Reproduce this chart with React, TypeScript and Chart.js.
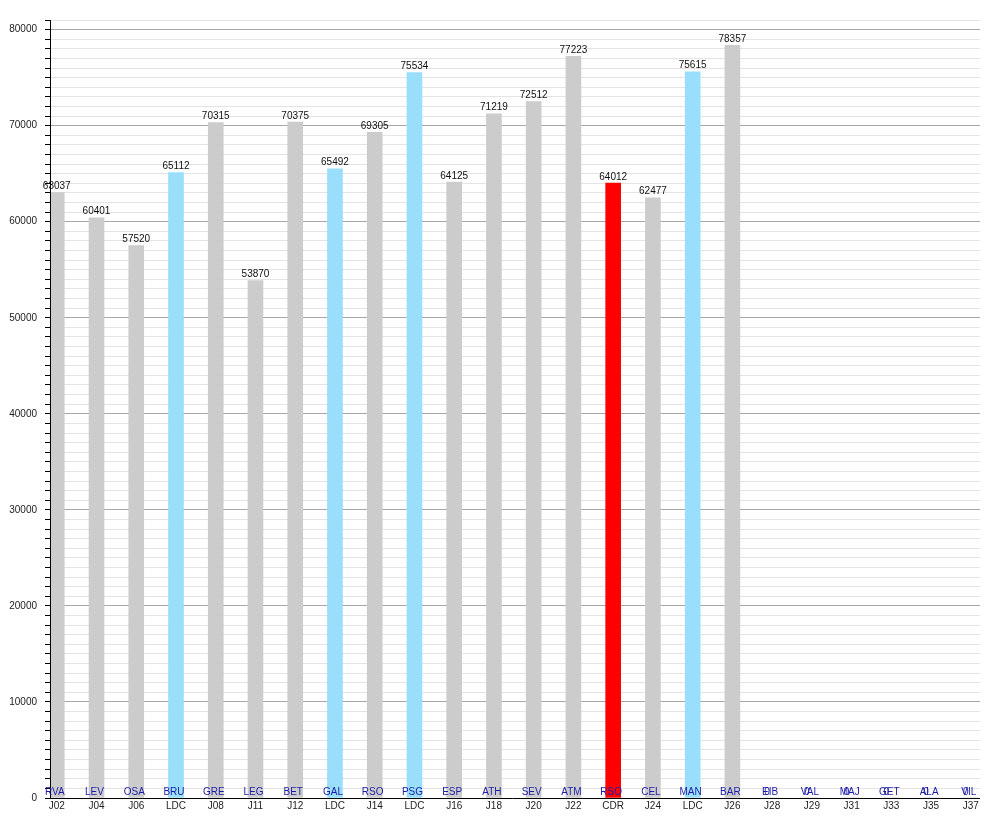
import React, { useEffect, useRef } from 'react';
import { Chart, registerables } from 'chart.js';

Chart.register(...registerables);

const rounds = ['J02','J04','J06','LDC','J08','J11','J12','LDC','J14','LDC','J16','J18','J20','J22','CDR','J24','LDC','J26','J28','J29','J31','J33','J35','J37'];
const opponents = ['RVA','LEV','OSA','BRU','GRE','LEG','BET','GAL','RSO','PSG','ESP','ATH','SEV','ATM','RSO','CEL','MAN','BAR','EIB','VAL','MAJ','GET','ALA','VIL'];
const attendance = [63037,60401,57520,65112,70315,53870,70375,65492,69305,75534,64125,71219,72512,77223,64012,62477,75615,78357,0,0,0,0,0,0];
const competition = ['liga','liga','liga','ucl','liga','liga','liga','ucl','liga','ucl','liga','liga','liga','liga','cup','liga','ucl','liga','liga','liga','liga','liga','liga','liga'];

const compColors: Record<string, string> = { liga: '#cccccc', ucl: '#99dffc', cup: '#ff0000' };

const FONT = '"Liberation Sans", Arial, Helvetica, sans-serif';

const overlay = {
  id: 'overlay',
  afterDatasetsDraw(chart: any) {
    const { ctx, chartArea } = chart;
    const yScale = chart.scales.y;
    const meta = chart.getDatasetMeta(0);
    ctx.save();
    ctx.strokeStyle = '#000';
    ctx.lineWidth = 1;
    ctx.beginPath();
    ctx.moveTo(chartArea.left + 0.5, chartArea.top);
    ctx.lineTo(chartArea.left + 0.5, chartArea.bottom);
    ctx.moveTo(chartArea.left - 5, chartArea.bottom + 0.5);
    ctx.lineTo(chartArea.right, chartArea.bottom + 0.5);
    ctx.stroke();

    ctx.font = `10px ${FONT}`;
    ctx.textBaseline = 'alphabetic';
    ctx.textAlign = 'center';
    const base = yScale.getPixelForValue(0);
    meta.data.forEach((bar: any, i: number) => {
      const v = attendance[i];
      if (v > 0) {
        ctx.fillStyle = '#111';
        ctx.fillText(String(v), bar.x, bar.y - 3.5);
      } else {
        ctx.fillStyle = '#1c1ca8';
        ctx.fillText('0', bar.x - 5, base - 3.5);
      }
      ctx.fillStyle = '#1c1ca8';
      ctx.fillText(opponents[i], bar.x - 2, base - 3.5);
    });
    ctx.restore();
  },
};

export default function App() {
  const ref = useRef<HTMLCanvasElement | null>(null);
  useEffect(() => {
    if (!ref.current) return;
    Chart.defaults.font.family = FONT;
    const chart = new Chart(ref.current, {
      type: 'bar',
      data: {
        datasets: [
          {
            data: attendance.map((v, i) => ({ x: i, y: v })),
            backgroundColor: competition.map((c) => compColors[c]),
            barThickness: 15,
            borderWidth: 0,
          },
        ],
      },
      options: {
        animation: false,
        responsive: false,
        maintainAspectRatio: false,
        layout: { padding: { top: 20, right: 20, left: 0, bottom: 0 } },
        plugins: { legend: { display: false }, tooltip: { enabled: false } },
        scales: {
          x: {
            type: 'linear',
            offset: false,
            min: -0.17,
            max: 23.23,
            afterBuildTicks: (s: any) => {
              s.ticks = rounds.map((_, i) => ({ value: i }));
            },
            afterFit: (s: any) => {
              s.height = 20;
            },
            ticks: {
              autoSkip: false,
              maxRotation: 0,
              minRotation: 0,
              padding: 2,
              color: '#222',
              font: { size: 10 },
              callback: (_v: any, i: number) => rounds[i] ?? '',
            },
            grid: { display: false, drawTicks: false, offset: false },
            border: { display: false },
          },
          y: {
            min: 0,
            max: 81000,
            afterFit: (s: any) => {
              s.width = 50;
            },
            ticks: {
              stepSize: 1000,
              autoSkip: false,
              padding: 8,
              color: '#222',
              font: { size: 10 },
              callback: (v: any) => (Number(v) % 10000 === 0 ? String(v) : ''),
            },
            grid: {
              color: (c: any) =>
                c.tick && c.tick.value % 10000 === 0 && c.tick.value !== 0 ? '#a8a8a8' : '#e4e4e4',
              tickColor: '#000',
              tickLength: 5,
              lineWidth: 1,
            },
            border: { display: false },
          },
        },
      },
      plugins: [overlay],
    });
    return () => chart.destroy();
  }, []);
  return (
    <div style={{ position: 'fixed', left: 0, top: 0, width: 1000, height: 818, background: '#fff' }}>
      <canvas ref={ref} width={1000} height={818} style={{ display: 'block' }} />
    </div>
  );
}
